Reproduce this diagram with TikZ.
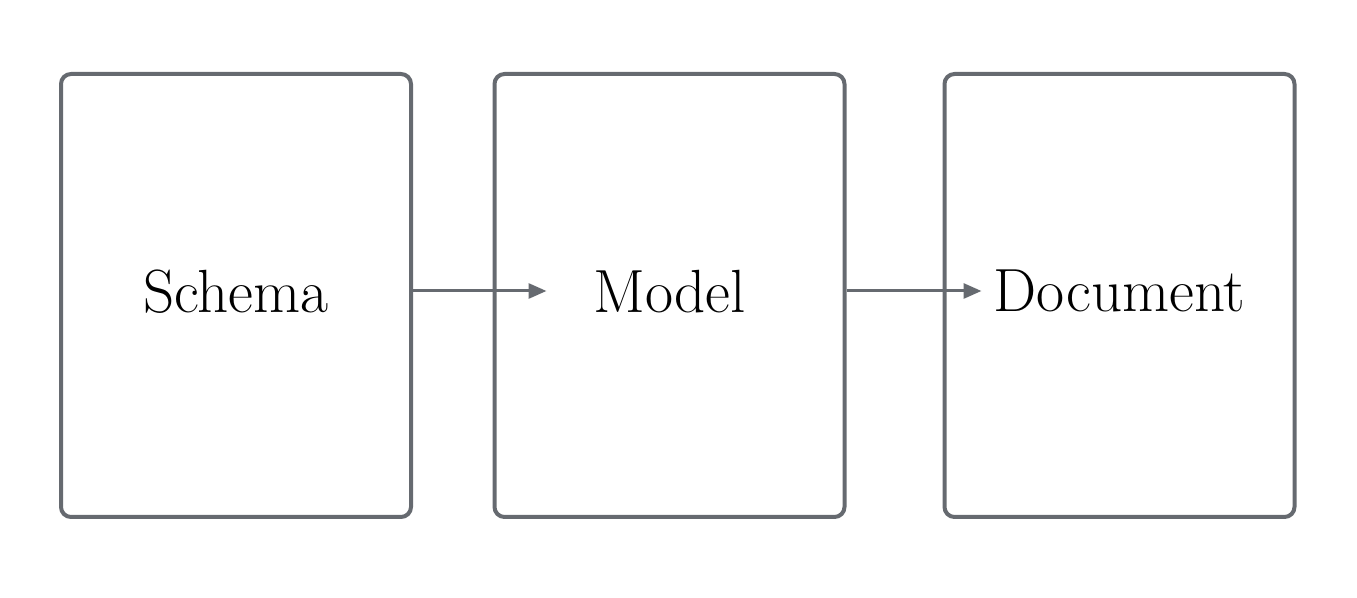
\documentclass[tikz,border=0pt]{standalone}
\usepackage{tikz}
\usetikzlibrary{calc,positioning,arrows.meta}
\definecolor{framec}{RGB}{102,106,112}
\tikzset{
  stage/.style={rectangle,rounded corners=5pt,draw=framec,line width=2pt,fill=white,
    minimum width=175pt,minimum height=221.5pt,inner sep=0pt,text depth=4.5pt,
    font=\fontsize{30.5}{34}\selectfont},
  flow/.style={-{Triangle[length=9pt,width=7.5pt]},line width=1.5pt,framec},
}
\begin{document}
\begin{tikzpicture}[x=0.5pt,y=-0.5pt]
  \useasboundingbox (0,0) rectangle (1357,598);
  \node[stage] (schema) at (236,295.5) {Schema};
  \node[stage] (model) at (669.5,295.5) {Model};
  \node[stage] (document) at (1119.5,295.5) {Document};
  % arrow ends sit inside the next box
  \coordinate (schema-out) at ([yshift=2.25pt]schema.east);
  \coordinate (model-out) at ([yshift=2.25pt]model.east);
  \coordinate (model-in) at ([xshift=27pt,yshift=2.25pt]model.west);
  \coordinate (document-in) at ([xshift=19.5pt,yshift=2.25pt]document.west);
  \draw[flow] (schema-out) -- (model-in);
  \draw[flow] (model-out) -- (document-in);
\end{tikzpicture}
\end{document}
